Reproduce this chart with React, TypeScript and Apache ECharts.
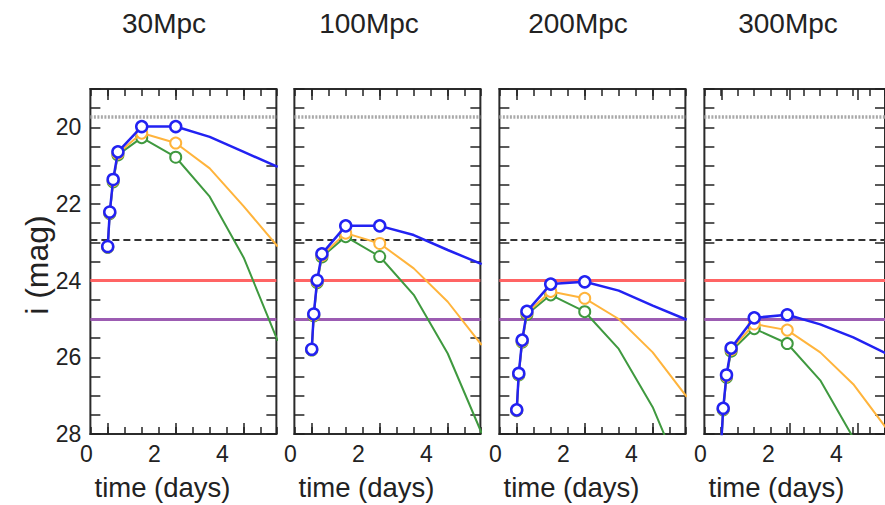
import React, { useEffect, useRef } from 'react';
import * as echarts from 'echarts';

// ---------------- data ----------------
const panelTitles = ['30Mpc', '100Mpc', '200Mpc', '300Mpc'];
const xName = 'time (days)';
const yName = 'i (mag)';

// epochs (days); the first `markerCount` carry open-circle markers
const times = [0.63, 0.69, 0.79, 0.93, 1.63, 2.63, 3.63, 4.63, 5.63];
const markerCount = 6;

// i-band magnitudes, one array per curve per distance
const blue30 = [23.11, 22.21, 21.36, 20.64, 19.98, 19.98, 20.25, 20.64, 21.03];
const orange30 = [23.12, 22.23, 21.39, 20.68, 20.15, 20.41, 21.07, 22.06, 23.11];
const green30 = [23.13, 22.25, 21.42, 20.72, 20.27, 20.78, 21.81, 23.4, 25.57];

const blue100 = [25.79, 24.87, 23.99, 23.3, 22.57, 22.57, 22.81, 23.2, 23.57];
const orange100 = [25.8, 24.9, 24.02, 23.34, 22.76, 23.03, 23.68, 24.55, 25.68];
const green100 = [25.81, 24.92, 24.05, 23.38, 22.85, 23.37, 24.37, 25.9, 27.98];

const blue200 = [27.37, 26.42, 25.55, 24.8, 24.09, 24.03, 24.26, 24.65, 25.02];
const orange200 = [27.38, 26.44, 25.58, 24.84, 24.28, 24.46, 25.0, 25.87, 27.03];
const green200 = [27.39, 26.46, 25.6, 24.88, 24.37, 24.81, 25.78, 27.3, 29.4];

const blue300 = [28.25, 27.33, 26.46, 25.76, 24.97, 24.89, 25.14, 25.48, 25.9];
const orange300 = [28.26, 27.35, 26.49, 25.8, 25.13, 25.29, 25.87, 26.7, 27.85];
const green300 = [28.27, 27.37, 26.52, 25.84, 25.25, 25.64, 26.6, 28.1, 30.2];

const blueByPanel = [blue30, blue100, blue200, blue300];
const orangeByPanel = [orange30, orange100, orange200, orange300];
const greenByPanel = [green30, green100, green200, green300];

// horizontal reference levels (mag)
const refLevels = [19.73, 22.93, 24, 25];

// axes
const yMin = 19;
const yMax = 28;
const yTickStep = 0.5;
const yLabelValues = [20, 22, 24, 26, 28];
const xLabelValues = [0, 2, 4];
const xMin = 0.12; // left frame edge (days); minor ticks every 0.5 from here
const xMinorStep = 0.5;
const xMajorOrigin = 0.62; // first long tick (days)
const xMajorStep = 2;
const xMajorSpan = 4;

// ---------------- styles / layout ----------------
const FONT = '"Liberation Sans", Arial, Helvetica, sans-serif';
const TEXT = '#222';
const FRAME = '#2b2b2b';
const BLUE = '#2222f2';
const ORANGE = '#ffb43c';
const GREEN = '#3f993f';
const refLineStyles = [
  { color: '#a9a9a9', width: 3.5, type: [2, 1.5] },
  { color: '#333333', width: 2.2, type: [7, 4] },
  { color: '#ff6464', width: 2.8, type: 'solid' },
  { color: '#9c5cb2', width: 2.8, type: 'solid' },
];

const zeroPxByPanel = [86.3, 290.3, 495.3, 700.3]; // pixel of t = 0 in each panel
const frameWidth = 186;
const frameTop = 89;
const frameHeight = 345;
const pxPerDay = 34;
const xMax = xMin + frameWidth / pxPerDay;
const titleCenters = [164, 369, 578, 788];

function buildOption() {
  const grid: any[] = [];
  const xAxis: any[] = [];
  const yAxis: any[] = [];
  const series: any[] = [];
  const graphic: any[] = [];
  const tickLine = { color: '#222', width: 1.5 };
  const frameLine = { show: true, onZero: false, lineStyle: { color: FRAME, width: 2 } };

  panelTitles.forEach((title, i) => {
    const zeroPx = zeroPxByPanel[i];
    const L = zeroPx + xMin * pxPerDay;

    const gData = grid.length;
    grid.push({
      left: L, top: frameTop, width: frameWidth, height: frameHeight,
      show: true, borderColor: FRAME, borderWidth: 2, backgroundColor: 'rgba(0,0,0,0)',
    });
    const gLab = grid.length;
    grid.push({ left: zeroPx, top: frameTop, width: 4 * pxPerDay, height: frameHeight, show: false });
    const gMajor = grid.length;
    grid.push({
      left: zeroPx + xMajorOrigin * pxPerDay, top: frameTop,
      width: xMajorSpan * pxPerDay, height: frameHeight, show: false,
    });

    // data axis (bottom) + mirror (top): short ticks every 0.5 day
    const xBase = xAxis.length;
    const mkDataX = (position: string) => ({
      type: 'value', gridIndex: gData, position, min: xMin, max: xMax, interval: xMinorStep,
      axisLine: frameLine, splitLine: { show: false }, axisLabel: { show: false },
      axisTick: { show: true, inside: true, length: 7, lineStyle: tickLine },
    });
    xAxis.push(mkDataX('bottom'), mkDataX('top'));
    // long ticks
    const mkMajorX = (position: string) => ({
      type: 'value', gridIndex: gMajor, position, min: 0, max: xMajorSpan, interval: xMajorStep,
      axisLine: frameLine, splitLine: { show: false }, axisLabel: { show: false },
      axisTick: { show: true, inside: true, length: 11, lineStyle: tickLine },
    });
    xAxis.push(mkMajorX('bottom'), mkMajorX('top'));
    // tick labels 0, 2, 4
    xAxis.push({
      type: 'value', gridIndex: gLab, position: 'bottom', min: 0, max: 4, interval: 2,
      axisLine: { show: false, onZero: false }, axisTick: { show: false }, splitLine: { show: false },
      axisLabel: { show: true, customValues: xLabelValues, fontSize: 23, color: TEXT, fontFamily: FONT, margin: 8 },
    });

    const yBase = yAxis.length;
    const mkY = (position: string, showLabel: boolean) => ({
      type: 'value', gridIndex: gData, position, min: yMin, max: yMax, inverse: true, interval: yTickStep,
      axisLine: { show: false, onZero: false }, splitLine: { show: false },
      axisTick: { show: true, inside: true, length: 10, lineStyle: tickLine },
      axisLabel: showLabel
        ? { show: true, customValues: yLabelValues, fontSize: 23, color: TEXT, fontFamily: FONT, margin: 9 }
        : { show: false },
    });
    yAxis.push(mkY('left', i === 0), mkY('right', false));
    const quietY = (g: number) => ({
      type: 'value', gridIndex: g, min: 0, max: 1,
      axisLine: { show: false, onZero: false }, axisTick: { show: false },
      axisLabel: { show: false }, splitLine: { show: false },
    });
    yAxis.push(quietY(gLab), quietY(gMajor));

    const curves = [
      { vals: greenByPanel[i], color: GREEN, width: 2, z: 3 },
      { vals: orangeByPanel[i], color: ORANGE, width: 2, z: 4 },
      { vals: blueByPanel[i], color: BLUE, width: 2.5, z: 5 },
    ];
    curves.forEach((c, k) => {
      const s: any = {
        type: 'line',
        xAxisIndex: xBase,
        yAxisIndex: yBase,
        z: c.z,
        silent: true,
        clip: true,
        symbolSize: 11,
        showAllSymbol: true,
        lineStyle: { color: c.color, width: c.width },
        itemStyle: { color: '#ffffff', borderColor: c.color, borderWidth: c.width },
        emphasis: { disabled: true },
        data: times.map((t, j) => ({
          value: [t, c.vals[j]],
          symbol: j < markerCount ? 'circle' : 'none',
        })),
      };
      if (k === 0) {
        s.markLine = {
          silent: true,
          z: 1,
          symbol: ['none', 'none'],
          label: { show: false },
          emphasis: { disabled: true },
          data: refLevels.map((v, r) => ({ yAxis: v, lineStyle: refLineStyles[r] })),
        };
      }
      series.push(s);
    });

    graphic.push({
      type: 'text', x: titleCenters[i], y: 23,
      style: {
        text: title, fill: TEXT, fontSize: 28, fontFamily: FONT,
        textAlign: 'center', textVerticalAlign: 'middle', align: 'center', verticalAlign: 'middle',
      },
    });
    graphic.push({
      type: 'text', x: zeroPx + 76.2, y: 487,
      style: {
        text: xName, fill: TEXT, fontSize: 27.5, fontFamily: FONT,
        textAlign: 'center', textVerticalAlign: 'middle', align: 'center', verticalAlign: 'middle',
      },
    });
  });

  graphic.push({
    type: 'text', x: 37, y: 265, rotation: Math.PI / 2,
    style: {
      text: yName, fill: TEXT, fontSize: 32, fontFamily: FONT,
      textAlign: 'center', textVerticalAlign: 'middle', align: 'center', verticalAlign: 'middle',
    },
  });

  return {
    animation: false,
    backgroundColor: '#ffffff',
    grid,
    xAxis,
    yAxis,
    series,
    graphic,
  };
}

export default function App() {
  const ref = useRef<HTMLDivElement>(null);
  useEffect(() => {
    if (!ref.current) return;
    const chart = echarts.init(ref.current, null, { renderer: 'svg' });
    chart.setOption(buildOption() as any);
    return () => chart.dispose();
  }, []);
  return (
    <div
      ref={ref}
      style={{ position: 'fixed', left: 0, top: 0, width: 885, height: 505, background: '#fff' }}
    />
  );
}
